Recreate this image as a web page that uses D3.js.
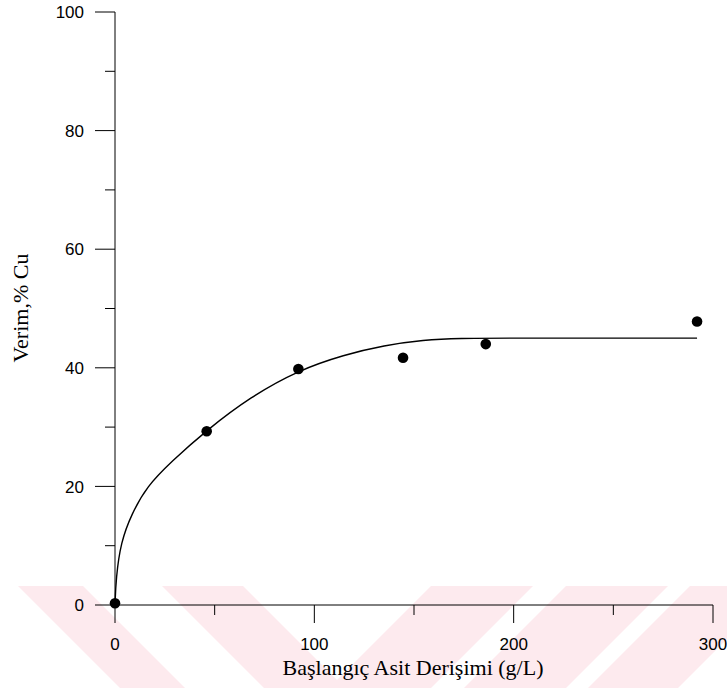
<!DOCTYPE html>
<html>
<head>
<meta charset="utf-8">
<script src="https://cdnjs.cloudflare.com/ajax/libs/d3/7.8.5/d3.min.js"></script>
<style>
	body { margin: 0; background: #fff; }
	svg { display: block; }
</style>
</head>
<body>
<div id="chart"></div>
<script>
// Measured points (acid concentration g/L, Cu yield %)
var concentration = [0, 46, 92, 144.5, 186, 292];
var yieldCu = [0.3, 29.3, 39.8, 41.7, 44.0, 47.8];

// Fitted curve
var fitX = [0, 0.5, 2.9, 8.4, 16, 28, 46, 68, 92, 115, 135, 155, 172, 200, 250, 292];
var fitY = [0, 4.5, 10.6, 15.4, 20, 24.1, 29.5, 35.1, 39.6, 42.2, 43.8, 44.7, 45, 45, 45, 45];

// Axis ticks
var xMajor = [0, 100, 200, 300],
	xMinor = [50, 150, 250];
var yMajor = [0, 20, 40, 60, 80, 100],
	yMinor = [10, 30, 50, 70, 90];

var xTitle = "Başlangıç Asit Derişimi (g/L)",
	yTitle = "Verim,% Cu";

// Basic sizes
var width = 727,
	height = 688;

var svg = d3.select("#chart")
	.append("svg")
	.attr("width", width)
	.attr("height", height);

// pale watermark stripes at the bottom of the page
var stripeTop = 586,
	stripeH = height - stripeTop;
var stripes = [
	{ a: 18, b: 83, dir: 1 },
	{ a: 162, b: 243, dir: 1 },
	{ a: 431, b: 533, dir: -1 },
	{ a: 566, b: 668, dir: -1 },
	{ a: 690, b: 780, dir: -1 }
];
svg.selectAll(".stripe")
	.data(stripes)
	.enter().append("polygon")
	.attr("class", "stripe")
	.attr("points", function(d) {
		var s = d.dir * stripeH;
		return [[d.a, stripeTop], [d.b, stripeTop], [d.b + s, height], [d.a + s, height]].join(" ");
	})
	.style("fill", "#fdeaee");

var x = d3.scaleLinear().domain([0, 300]).range([115, 713]);
var y = d3.scaleLinear().domain([0, 100]).range([605, 12]);

var g = svg.append("g");

// Y axis: line, major and minor ticks
g.append("line")
	.attr("x1", x(0)).attr("x2", x(0))
	.attr("y1", y(100)).attr("y2", y(0))
	.style("stroke", "#000").style("stroke-width", 1);

g.selectAll(".ymaj")
	.data(yMajor)
	.enter().append("line")
	.attr("x1", x(0) - 20).attr("x2", x(0))
	.attr("y1", function(d) { return y(d); })
	.attr("y2", function(d) { return y(d); })
	.style("stroke", "#000");

g.selectAll(".ymin")
	.data(yMinor)
	.enter().append("line")
	.attr("x1", x(0) - 10).attr("x2", x(0))
	.attr("y1", function(d) { return y(d); })
	.attr("y2", function(d) { return y(d); })
	.style("stroke", "#000");

g.selectAll(".ylab")
	.data(yMajor)
	.enter().append("text")
	.attr("x", 84)
	.attr("y", function(d) { return y(d); })
	.attr("dy", "0.36em")
	.attr("text-anchor", "end")
	.style("font-family", "Arial, 'Liberation Sans', sans-serif")
	.style("font-size", "17px")
	.text(function(d) { return d; });

// X axis
g.append("line")
	.attr("x1", x(0)).attr("x2", x(300))
	.attr("y1", y(0)).attr("y2", y(0))
	.style("stroke", "#000").style("stroke-width", 1);

g.selectAll(".xmaj")
	.data(xMajor)
	.enter().append("line")
	.attr("x1", function(d) { return x(d); })
	.attr("x2", function(d) { return x(d); })
	.attr("y1", y(0)).attr("y2", y(0) + 18)
	.style("stroke", "#000");

g.selectAll(".xmin")
	.data(xMinor)
	.enter().append("line")
	.attr("x1", function(d) { return x(d); })
	.attr("x2", function(d) { return x(d); })
	.attr("y1", y(0)).attr("y2", y(0) + 10)
	.style("stroke", "#000");

g.selectAll(".xlab")
	.data(xMajor)
	.enter().append("text")
	.attr("x", function(d) { return x(d); })
	.attr("y", 650)
	.attr("text-anchor", "middle")
	.style("font-family", "Arial, 'Liberation Sans', sans-serif")
	.style("font-size", "17px")
	.text(function(d) { return d; });

// Axis titles
svg.append("text")
	.attr("x", 413)
	.attr("y", 675)
	.attr("text-anchor", "middle")
	.style("font-family", "'Times New Roman', 'Liberation Serif', serif")
	.style("font-size", "22px")
	.text(xTitle);

svg.append("text")
	.attr("transform", "translate(28,308) rotate(-90)")
	.attr("text-anchor", "middle")
	.style("font-family", "'Times New Roman', 'Liberation Serif', serif")
	.style("font-size", "22px")
	.text(yTitle);

// Fitted curve (basis spline to keep it smooth)
var fit = fitX.map(function(v, i) { return { x: v, y: fitY[i] }; });
var line = d3.line()
	.x(function(d) { return x(d.x); })
	.y(function(d) { return y(d.y); })
	.curve(d3.curveBasis);

g.append("path")
	.datum(fit)
	.attr("d", line)
	.style("fill", "none")
	.style("stroke", "#000")
	.style("stroke-width", 1.4);

// Data points
var points = concentration.map(function(v, i) { return { x: v, y: yieldCu[i] }; });
g.selectAll(".dot")
	.data(points)
	.enter().append("circle")
	.attr("class", "dot")
	.attr("cx", function(d) { return x(d.x); })
	.attr("cy", function(d) { return y(d.y); })
	.attr("r", 5.3)
	.style("fill", "#000");
</script>
</body>
</html>
